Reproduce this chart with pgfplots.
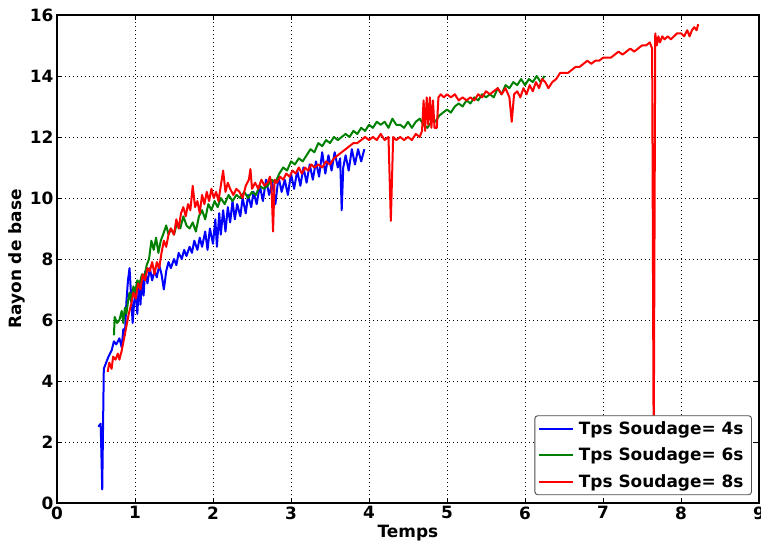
\documentclass[border=0pt]{standalone}
\usepackage{fontspec}
\setmainfont{DejaVu Sans}
\usepackage{pgfplots}
\pgfplotsset{compat=1.18}
\definecolor{mplblue}{rgb}{0,0,1}
\definecolor{mplgreen}{rgb}{0,0.5,0}
\definecolor{mplred}{rgb}{1,0,0}
\newcommand{\lbl}{\fontsize{17}{20}\selectfont\bfseries}
\begin{document}
\begin{tikzpicture}
\begin{axis}[
  scale only axis,
  width=702bp, height=488bp,
  xmin=0, xmax=9, ymin=0, ymax=16,
  xtick={0,1,...,9}, ytick={0,2,...,16},
  /pgf/number format/assume math mode=true,
  ticklabel style={font=\lbl},
  xlabel={\lbl Temps}, ylabel={\lbl Rayon de base},
  xlabel style={yshift=1bp}, ylabel style={yshift=-2bp},
  grid=major,
  major grid style={black, line width=0.9pt, dash pattern=on 1bp off 3bp},
  axis line style={black, line width=1.5bp},
  tick style={black, line width=0.6pt},
  major tick length=5bp,
  legend cell align=left,
  legend style={at={(0.990,0.016)}, anchor=south east, draw=black!70,
    line width=0.9pt, rounded corners=3bp, font=\lbl, fill=white,
    row sep=8bp, inner xsep=3bp, inner ysep=4bp,
    nodes={inner xsep=5bp}},
  legend image code/.code={\draw[#1, line width=2bp] (0bp,0bp) -- (26bp,0bp); \path (0bp,0bp) -- (34bp,0bp);},
  every axis plot/.append style={line width=2bp, line join=round},
]
\addplot[mplblue] coordinates {
(0.53,2.5)(0.56,2.6)(0.58,0.45)(0.60,4.4)(0.63,4.6)(0.66,4.8)(0.70,5.0)(0.73,5.3)(0.76,5.2)(0.80,5.4)(0.83,5.1)(0.85,5.7)(0.87,5.5)(0.89,6.6)(0.91,7.3)(0.93,7.7)(0.95,6.8)(0.97,5.9)(0.99,6.6)(1.01,6.9)(1.03,6.2)(1.05,7.2)(1.07,6.5)(1.09,7.4)(1.11,6.8)(1.13,7.6)(1.16,7.2)(1.19,7.7)(1.22,7.3)(1.25,7.6)(1.28,7.4)(1.31,7.8)(1.34,7.5)(1.37,7.0)(1.40,7.6)(1.43,7.9)(1.46,7.7)(1.50,8.0)(1.53,7.8)(1.56,8.2)(1.60,8.0)(1.63,8.3)(1.66,8.1)(1.70,8.4)(1.73,8.2)(1.76,8.6)(1.80,8.3)(1.83,8.7)(1.86,8.4)(1.90,8.9)(1.93,8.3)(1.96,9.0)(2.00,8.5)(2.03,9.3)(2.05,8.4)(2.08,9.5)(2.10,8.8)(2.13,9.6)(2.16,8.9)(2.19,9.7)(2.22,9.2)(2.25,9.9)(2.28,9.3)(2.31,9.8)(2.35,9.4)(2.38,10.0)(2.42,9.5)(2.45,10.1)(2.49,9.7)(2.52,10.2)(2.56,9.8)(2.60,10.4)(2.64,9.9)(2.68,10.6)(2.72,10.1)(2.76,10.5)(2.80,9.8)(2.84,10.7)(2.88,10.2)(2.92,10.6)(2.96,10.1)(3.00,10.8)(3.04,10.3)(3.08,10.9)(3.12,10.4)(3.16,11.0)(3.20,10.5)(3.24,11.1)(3.28,10.6)(3.32,11.2)(3.36,10.7)(3.40,11.5)(3.44,10.8)(3.48,11.4)(3.52,10.9)(3.56,11.5)(3.60,11.0)(3.63,11.3)(3.65,9.6)(3.67,11.0)(3.70,11.4)(3.74,10.9)(3.78,11.6)(3.82,11.1)(3.86,11.6)(3.90,11.2)(3.94,11.6)
};
\addlegendentry{Tps Soudage= 4s}
\addplot[mplgreen] coordinates {
(0.73,5.5)(0.74,6.1)(0.77,5.9)(0.80,6.0)(0.83,6.3)(0.85,5.9)(0.87,6.4)(0.89,6.2)(0.91,6.6)(0.93,6.9)(0.95,6.6)(0.98,7.1)(1.00,6.9)(1.03,7.3)(1.06,7.2)(1.09,7.5)(1.12,7.4)(1.15,7.8)(1.18,8.0)(1.21,8.6)(1.24,8.3)(1.27,8.7)(1.30,8.2)(1.33,8.6)(1.36,8.8)(1.40,9.1)(1.43,8.8)(1.46,9.0)(1.50,8.8)(1.54,9.2)(1.58,9.0)(1.62,9.4)(1.66,9.1)(1.70,9.0)(1.74,9.2)(1.78,8.9)(1.82,9.4)(1.86,9.6)(1.90,9.3)(1.94,9.8)(1.98,9.6)(2.02,9.9)(2.06,9.7)(2.10,10.0)(2.15,9.8)(2.20,10.1)(2.25,9.9)(2.30,10.1)(2.35,10.0)(2.40,10.2)(2.45,10.0)(2.50,10.2)(2.55,10.1)(2.60,10.4)(2.65,10.3)(2.70,10.4)(2.75,10.6)(2.80,10.5)(2.85,10.8)(2.90,11.0)(2.95,10.9)(3.00,11.2)(3.05,11.1)(3.10,11.3)(3.15,11.2)(3.20,11.4)(3.25,11.6)(3.30,11.5)(3.35,11.8)(3.40,11.7)(3.45,11.9)(3.50,11.8)(3.55,12.0)(3.60,11.9)(3.65,12.0)(3.70,12.1)(3.75,12.0)(3.80,12.2)(3.85,12.1)(3.90,12.3)(3.95,12.2)(4.00,12.4)(4.05,12.3)(4.10,12.5)(4.15,12.4)(4.20,12.5)(4.25,12.3)(4.30,12.6)(4.35,12.4)(4.40,12.4)(4.45,12.3)(4.50,12.5)(4.55,12.3)(4.60,12.5)(4.65,12.6)(4.70,12.4)(4.75,12.3)(4.80,12.5)(4.85,12.5)(4.90,12.7)(4.95,12.8)(5.00,12.9)(5.05,12.8)(5.10,13.0)(5.15,13.1)(5.20,13.0)(5.25,13.2)(5.30,13.1)(5.35,13.3)(5.40,13.2)(5.45,13.4)(5.50,13.3)(5.55,13.4)(5.60,13.3)(5.65,13.6)(5.70,13.4)(5.75,13.7)(5.80,13.6)(5.85,13.8)(5.90,13.7)(5.95,13.9)(6.00,13.7)(6.05,13.9)(6.10,13.8)(6.15,14.0)(6.20,13.8)(6.25,14.0)
};
\addlegendentry{Tps Soudage= 6s}
\addplot[mplred] coordinates {
(0.65,4.3)(0.67,4.6)(0.70,4.4)(0.72,4.8)(0.75,4.7)(0.78,4.9)(0.80,4.7)(0.83,5.0)(0.86,5.4)(0.89,5.8)(0.92,6.2)(0.95,6.5)(0.98,6.9)(1.01,6.7)(1.04,7.2)(1.07,7.0)(1.10,7.5)(1.13,7.3)(1.16,7.7)(1.19,7.6)(1.22,7.9)(1.25,7.5)(1.28,7.9)(1.31,7.7)(1.34,8.2)(1.37,8.6)(1.40,8.4)(1.43,8.8)(1.46,9.0)(1.50,8.8)(1.53,9.3)(1.56,9.0)(1.59,9.5)(1.62,9.7)(1.65,9.4)(1.68,9.8)(1.71,9.6)(1.74,10.4)(1.77,9.7)(1.80,9.9)(1.83,9.5)(1.86,10.1)(1.89,9.8)(1.92,10.2)(1.95,9.9)(1.98,10.3)(2.01,10.0)(2.04,10.2)(2.07,9.9)(2.10,10.4)(2.13,10.9)(2.16,10.2)(2.19,10.5)(2.22,10.3)(2.26,10.1)(2.30,10.3)(2.34,10.2)(2.38,10.0)(2.42,10.4)(2.46,10.6)(2.48,10.95)(2.50,10.3)(2.54,10.5)(2.58,10.3)(2.62,10.6)(2.66,10.4)(2.70,10.5)(2.73,10.7)(2.75,10.4)(2.77,8.9)(2.79,10.6)(2.82,10.5)(2.86,10.7)(2.90,10.6)(2.94,10.8)(2.98,10.7)(3.02,10.9)(3.06,10.8)(3.10,11.0)(3.14,10.8)(3.18,11.0)(3.22,10.9)(3.26,11.1)(3.30,11.0)(3.35,11.1)(3.40,11.0)(3.45,11.2)(3.50,11.1)(3.55,11.3)(3.60,11.4)(3.65,11.5)(3.70,11.6)(3.75,11.7)(3.80,11.8)(3.85,11.8)(3.90,11.9)(3.95,12.0)(4.00,11.9)(4.05,12.0)(4.10,11.9)(4.15,12.1)(4.20,11.9)(4.25,12.0)(4.28,9.25)(4.31,12.0)(4.35,11.9)(4.40,12.0)(4.45,11.9)(4.50,12.0)(4.55,11.9)(4.60,12.1)(4.65,12.0)(4.68,12.2)(4.70,13.2)(4.72,12.2)(4.74,13.3)(4.76,12.4)(4.78,13.3)(4.80,12.3)(4.82,13.2)(4.84,12.3)(4.87,12.3)(4.89,13.3)(4.92,13.4)(4.96,13.3)(5.00,13.4)(5.05,13.3)(5.10,13.4)(5.15,13.2)(5.20,13.3)(5.25,13.2)(5.30,13.3)(5.35,13.2)(5.40,13.4)(5.45,13.3)(5.50,13.5)(5.55,13.4)(5.60,13.5)(5.65,13.6)(5.70,13.4)(5.75,13.6)(5.80,13.3)(5.83,12.5)(5.86,13.4)(5.90,13.5)(5.94,13.3)(5.98,13.6)(6.02,13.4)(6.06,13.7)(6.10,13.5)(6.14,13.8)(6.18,13.6)(6.22,13.9)(6.26,13.8)(6.30,13.6)(6.35,13.8)(6.40,13.9)(6.45,14.1)(6.50,14.1)(6.55,14.1)(6.60,14.2)(6.65,14.3)(6.70,14.3)(6.75,14.4)(6.80,14.5)(6.85,14.4)(6.90,14.5)(6.95,14.5)(7.00,14.6)(7.05,14.6)(7.10,14.6)(7.15,14.7)(7.20,14.8)(7.25,14.7)(7.30,14.8)(7.35,14.9)(7.40,14.8)(7.45,14.9)(7.50,15.0)(7.55,15.0)(7.60,15.1)(7.63,14.9)(7.65,1.5)(7.67,15.4)(7.69,15.0)(7.71,15.3)(7.73,15.1)(7.76,15.3)(7.79,15.2)(7.83,15.3)(7.87,15.2)(7.91,15.3)(7.95,15.4)(8.00,15.4)(8.04,15.3)(8.08,15.5)(8.11,15.3)(8.14,15.5)(8.17,15.6)(8.20,15.5)(8.22,15.7)
};
\addlegendentry{Tps Soudage= 8s}
\end{axis}
\pgfresetboundingbox
\path[use as bounding box] (-57bp,-39bp) rectangle (704bp,503bp);
\end{tikzpicture}
\end{document}
